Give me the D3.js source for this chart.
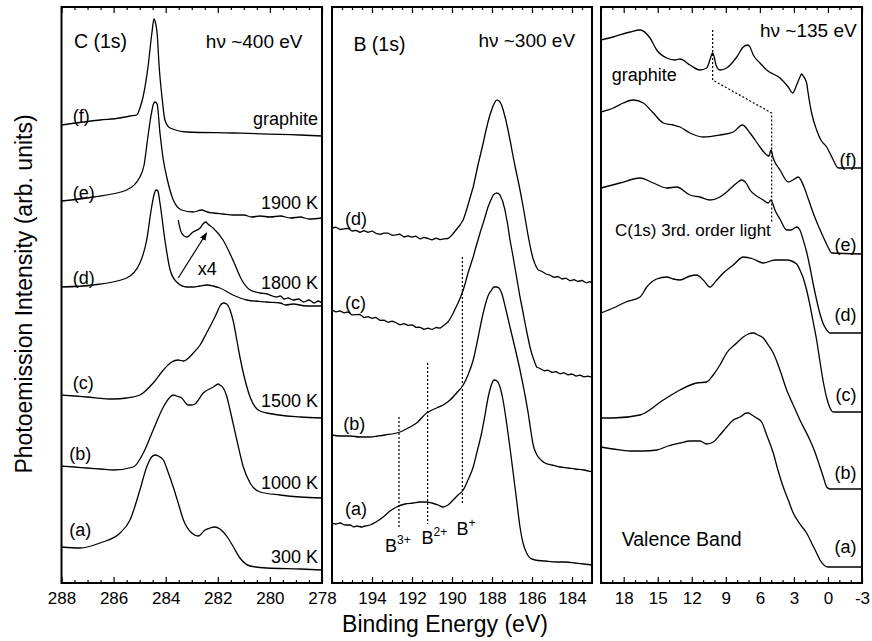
<!DOCTYPE html>
<html>
<head>
<meta charset="utf-8">
<script src="https://cdn.jsdelivr.net/npm/d3@7"></script>
<style>
  body { margin: 0; background: #fff; }
  svg { display: block; }
  text { font-family: "Liberation Sans", Arial, Helvetica, sans-serif; fill: #000; }
</style>
</head>
<body>
<svg id="chart" width="872" height="641"></svg>
<script>
// ---------------- data: [binding energy (eV), intensity (arb. units)] ----------------

// C(1s), hv ~ 400 eV
const c1sA = [[288.0,36],[287.29,35],[286.52,40],[285.75,50],[285.37,63],[284.99,93],[284.73,116],[284.54,126],[284.41,128],[284.28,127],[284.09,123],[283.91,111],[283.71,96],[283.52,80],[283.32,63],[283.0,50],[282.75,47],[282.49,53],[282.30,55],[282.11,56],[281.92,54],[281.79,51],[281.61,45],[281.40,36],[281.15,25],[280.76,17],[280.12,15],[278.84,14],[278.0,13]];
const c1sB = [[288.0,117],[287.5,116],[287.03,115],[286.5,114],[286.01,113],[285.24,116],[284.86,130],[284.48,153],[284.09,176],[283.83,186],[283.71,188],[283.58,187],[283.39,185],[283.13,178],[283.0,178],[282.88,179],[282.56,190],[282.17,196],[281.98,199],[281.92,198],[281.79,195],[281.66,187],[281.53,173],[281.27,143],[281.02,116],[280.76,100],[280.38,91],[279.61,88],[278.84,86],[278.0,85]];
const c1sC = [[288.0,188],[287.5,187],[287.03,186],[286.01,184],[285.50,185],[284.99,188],[284.48,200],[284.09,213],[283.77,221],[283.52,223],[283.32,222],[282.94,230],[282.68,238],[282.43,250],[282.17,263],[282.04,270],[281.92,277],[281.79,280],[281.66,279],[281.53,273],[281.40,261],[281.27,243],[281.15,226],[281.02,210],[280.76,186],[280.45,173],[280.12,170],[278.84,166],[278.0,165]];
const c1sD = [[288.0,296],[286.79,298],[285.50,305],[284.99,320],[284.73,343],[284.54,376],[284.45,388],[284.37,393],[284.30,392],[284.22,380],[284.03,343],[283.83,313],[283.58,301],[283.19,296],[282.95,296],[282.68,297],[282.43,298],[282.18,297],[281.92,295],[281.42,288],[280.89,283],[280.12,281],[279.6,280],[279.4,278],[279.11,279],[278.6,277],[278.0,277]];
const c1sDx4 = [[283.52,363],[283.39,350],[283.19,346],[282.95,351],[282.68,355],[282.57,359],[282.46,361],[282.38,359],[282.18,355],[281.80,343],[281.42,323],[281.08,303],[280.76,293],[280.38,290],[280.1,289],[279.9,287],[279.74,286],[279.6,287],[279.45,284],[279.3,285],[279.11,283],[278.9,284],[278.7,281],[278.5,283],[278.3,280],[278.15,282],[278.0,280]];
const c1sE = [[288.0,382],[286.79,386],[285.50,393],[284.99,406],[284.83,418],[284.70,443],[284.56,468],[284.47,479],[284.41,481],[284.33,479],[284.22,450],[284.09,423],[283.96,406],[283.71,383],[283.39,373],[282.95,371],[282.62,373],[282.4,371],[282.18,370],[281.8,369],[281.42,368],[281.0,368],[280.7,366],[280.38,367],[280.0,366],[279.6,367],[279.2,365],[278.84,366],[278.5,364],[278.0,365]];
const c1sF = [[288.0,458],[286.52,463],[285.75,465],[285.37,467],[285.11,468],[284.99,475],[284.87,486],[284.68,516],[284.53,550],[284.45,564],[284.39,560],[284.33,550],[284.25,516],[284.13,483],[284.03,463],[283.83,455],[283.18,451],[281.42,450],[278.84,448],[278.0,447]];

// B(1s), hv ~ 300 eV
const b1sA = [[196.0,60],[195.8,59],[195.6,60],[195.35,58],[195.1,58],[194.9,56],[194.77,57],[194.5,56],[194.35,57],[194.10,58],[193.80,61],[193.44,66],[193.10,72],[192.77,76],[192.35,79],[191.94,80],[191.60,81],[191.27,81],[191.0,80],[190.70,78],[190.44,76],[190.20,78],[189.94,83],[189.70,88],[189.44,93],[189.20,103],[188.94,116],[188.75,131],[188.52,150],[188.35,168],[188.19,186],[188.05,197],[187.90,203],[187.75,202],[187.60,196],[187.45,183],[187.27,160],[187.10,135],[186.94,110],[186.77,83],[186.60,56],[186.45,40],[186.27,30],[186.10,25],[185.85,23],[185.35,22],[184.77,21],[184.3,21],[183.85,20],[183.4,19],[183.0,18]];
const b1sB = [[196.0,148],[195.6,147],[195.1,147],[194.6,146],[194.10,146],[193.7,147],[193.35,148],[192.60,151],[192.10,156],[191.77,160],[191.27,170],[190.77,175],[190.44,178],[190.10,183],[189.77,190],[189.44,198],[189.20,208],[188.94,223],[188.70,245],[188.44,270],[188.20,287],[188.02,293],[187.90,296],[187.77,296],[187.65,295],[187.52,290],[187.30,273],[187.10,256],[186.85,235],[186.60,213],[186.35,188],[186.20,171],[186.05,151],[185.94,138],[185.75,128],[185.55,123],[185.35,120],[185.0,118],[184.60,116],[184.2,115],[183.85,114],[183.4,113],[183.0,111]];
const b1sC = [[196.0,273],[195.8,271.2],[195.6,272.2],[195.4,270.2],[195.2,271.1],[195.0,268.1],[194.8,268.4],[194.6,268.5],[194.4,265.4],[194.2,266.3],[194.0,264.7],[193.8,265.6],[193.6,262.6],[193.4,262.9],[193.2,260.7],[193.0,261.9],[192.8,260.3],[192.6,258.1],[192.4,259.3],[192.2,257.6],[192.0,258.2],[191.8,255.6],[191.6,255.8],[191.4,253.6],[191.2,254.8],[191.0,253.5],[190.8,255.5],[190.6,254.8],[190.4,257.8],[190.2,261],[190.07,265],[189.94,270],[189.82,275],[189.70,280],[189.57,286],[189.44,293],[189.32,301],[189.20,310],[189.07,318],[188.94,326],[188.82,335],[188.70,343],[188.57,352],[188.44,360],[188.32,368],[188.20,376],[188.07,382.5],[187.94,388],[187.85,389.5],[187.77,390],[187.68,389.5],[187.60,388],[187.47,382],[187.35,373],[187.22,359],[187.10,343],[186.97,329],[186.85,315],[186.72,300],[186.60,286],[186.47,273],[186.35,260],[186.22,247],[186.10,236],[186.02,230],[185.94,225],[185.85,220],[185.77,216],[185.6,214.5],[185.4,212.2],[185.2,212.8],[185.0,210.6],[184.8,211.4],[184.6,209.2],[184.4,210.3],[184.2,208.1],[184.0,209],[183.8,206.9],[183.6,207.8],[183.4,206.1],[183.2,206.8],[183.0,205.5]];
const b1sD = [[196.0,355],[195.8,355.8],[195.6,353.5],[195.4,354.1],[195.2,354.7],[195.0,352.0],[194.8,352.7],[194.6,350.7],[194.4,352.3],[194.2,350.7],[194.0,352.0],[193.8,349.7],[193.6,348.7],[193.4,349.9],[193.2,349.9],[193.0,347.7],[192.8,348.2],[192.6,348.8],[192.4,346.0],[192.2,347.1],[192.0,345.8],[191.8,346.8],[191.6,344.0],[191.4,345.6],[191.2,344.5],[191.0,343.1],[190.8,344.8],[190.6,343.3],[190.4,344.1],[190.2,344.5],[190.1,346],[190.0,348],[189.9,350.5],[189.8,353],[189.7,355.5],[189.6,358],[189.52,360.5],[189.44,363],[189.32,370],[189.20,378],[189.07,387],[188.94,396],[188.82,407],[188.70,418],[188.57,429],[188.44,440],[188.32,451],[188.20,461],[188.11,467.5],[188.02,473],[187.94,477.5],[187.85,481],[187.80,482.5],[187.74,483],[187.67,482.5],[187.60,481],[187.52,478],[187.44,473],[187.32,464],[187.20,453],[187.07,440],[186.94,426],[186.82,414],[186.70,403],[186.57,390],[186.44,376],[186.32,362],[186.20,348],[186.11,338.5],[186.02,330],[185.94,324],[185.85,319],[185.77,315.5],[185.69,313],[185.5,311.5],[185.3,309],[185.1,307.8],[184.9,305.6],[184.7,306.5],[184.5,304],[184.3,304.8],[184.1,302.2],[183.9,303.4],[183.7,301.5],[183.5,302.6],[183.3,300.2],[183.1,301.3],[183.0,300]];

// Valence band, hv ~ 135 eV
const vbA = [[20.0,136],[18.92,134],[17.44,132],[16.27,132],[15.09,133],[14.10,137],[13.04,140],[12.16,142],[11.28,142],[10.69,139],[10.11,141],[9.52,148],[8.93,156],[8.34,163],[7.75,166],[7.16,170],[7.02,170],[6.70,168],[6.28,165],[5.84,161],[5.40,148],[4.82,130],[4.41,113],[3.94,96],[3.50,83],[3.06,70],[2.47,59],[1.88,50],[1.44,40],[1.00,30],[0.70,23],[0.26,17],[0.0,16],[-3.0,16]];
const vbB = [[20.0,165],[18.92,165],[16.56,168],[14.51,183],[13.04,193],[11.57,200],[10.69,201],[10.11,208],[9.52,218],[8.93,230],[8.04,240],[7.46,246],[7.02,249],[6.58,250],[6.17,248],[5.70,245],[5.26,238],[4.82,230],[4.23,213],[3.64,193],[3.06,178],[2.47,163],[1.59,143],[1.15,131],[0.70,116],[0.41,106],[0.11,96],[-0.18,94],[-0.47,94],[-3.0,94]];
const vbC = [[20.0,270],[18.92,275],[17.80,281],[16.56,286],[15.97,296],[15.09,304],[14.21,306],[13.63,304],[13.04,303],[12.16,307],[11.57,308],[10.99,303],[10.40,296],[9.87,302],[9.22,310],[8.34,318],[7.46,326],[6.58,324],[5.70,320],[4.67,323],[3.64,323],[2.76,319],[2.47,313],[2.18,305],[1.88,293],[1.59,278],[1.30,261],[1.00,243],[0.70,221],[0.41,201],[0.11,185],[-0.18,175],[-0.47,171],[-3.0,171]];
const vbD = [[20.0,395],[18.33,400],[16.56,405],[15.39,400],[14.21,395],[13.33,396],[12.16,388],[11.28,386],[10.40,383],[9.52,386],[8.93,391],[8.04,400],[7.60,403],[7.16,399],[6.87,393],[6.28,387],[5.70,383],[5.26,380],[5.02,383],[4.85,379],[4.67,373],[4.23,364],[3.64,353],[3.26,353],[2.76,356],[2.47,353],[2.18,343],[1.88,331],[1.59,316],[1.30,299],[1.00,283],[0.70,269],[0.41,259],[0.11,253],[-0.18,250],[-3.0,250]];
const vbE = [[20.0,471],[18.92,475],[18.04,480],[17.15,483],[16.27,480],[15.39,470],[14.51,460],[13.63,458],[13.04,456],[12.16,450],[10.99,446],[9.52,448],[8.34,451],[7.55,458],[6.87,450],[5.99,436],[5.40,428],[5.20,427],[5.02,433],[4.85,426],[4.76,423],[4.23,413],[3.50,401],[3.09,403],[2.62,406],[2.18,398],[1.76,385],[1.30,370],[0.88,358],[0.41,346],[0.0,336],[-0.33,330],[-3.0,329]];
const vbF = [[20.0,543],[18.92,546],[17.44,551],[16.56,553],[15.68,545],[15.09,533],[14.21,525],[13.48,523],[13.04,524],[12.16,518],[11.28,513],[10.69,515],[10.55,518],[10.35,525],[10.16,530],[10.0,525],[9.87,518],[9.52,513],[8.93,515],[8.04,526],[7.46,536],[7.07,538],[6.87,536],[6.58,528],[5.99,520],[5.40,513],[4.23,505],[3.50,496],[3.11,490],[2.76,498],[2.47,506],[2.32,509],[2.18,507],[1.88,500],[1.76,491],[1.59,479],[1.44,470],[1.00,453],[0.62,443],[0.11,436],[-0.47,423],[-0.91,415],[-3.0,415]];

// B(1s) chemical-shift markers: energy, top and bottom intensity of the dotted guide
const boronStates = ["B3+", "B2+", "B+"];
const boronStateEnergy = [192.65, 191.22, 189.48];
const boronStateSpan = [[166, 56], [220, 59], [326, 78]];

// C(1s) third-order light trace in the valence band spectra
const thirdOrderPath = [[10.16,553],[10.16,503],[4.96,470],[4.96,361]];

// labels
const curveLetters = ["(a)", "(b)", "(c)", "(d)", "(e)", "(f)"];
const c1sConditions = ["300 K", "1000 K", "1500 K", "1800 K", "1900 K", "graphite"];
const panelTitles = ["C (1s)", "B (1s)", "Valence Band"];
const photonEnergies = ["h\u03BD ~400 eV", "h\u03BD ~300 eV", "h\u03BD ~135 eV"];

// tick values
const c1sTicks = [288, 286, 284, 282, 280, 278];
const b1sTicks = [194, 192, 190, 188, 186, 184];
const vbTicks = [18, 15, 12, 9, 6, 3, 0, -3];

// ---------------- layout ----------------
const svg = d3.select("#chart");
const TOP = 7, BOTTOM = 583;
const y = d3.scaleLinear().domain([0, 576]).range([BOTTOM, TOP]);

// densely sampled (noisy) spectra are joined point to point
const roughCurves = new Set([b1sC, b1sD]);

const panels = [
  { x: d3.scaleLinear().domain([288, 278]).range([61.5, 322]), ticks: c1sTicks, minor: d3.range(278, 288.001, 0.5),
    curves: [c1sA, c1sB, c1sC, c1sD, c1sE, c1sF, c1sDx4] },
  { x: d3.scaleLinear().domain([196, 183]).range([332, 592]), ticks: b1sTicks, minor: d3.range(183, 196.001, 0.5),
    curves: [b1sA, b1sB, b1sC, b1sD] },
  { x: d3.scaleLinear().domain([20, -3]).range([601, 862]), ticks: vbTicks, minor: d3.range(-3, 20.001, 1),
    curves: [vbA, vbB, vbC, vbD, vbE, vbF] }
];

const defs = svg.append("defs");
defs.append("marker").attr("id", "arrowhead")
  .attr("viewBox", "0 0 10 10").attr("refX", 9).attr("refY", 5)
  .attr("markerUnits", "userSpaceOnUse").attr("markerWidth", 8).attr("markerHeight", 8)
  .attr("orient", "auto")
  .append("path").attr("d", "M0,1 L10,5 L0,9 Z").attr("fill", "#000");

panels.forEach((p, i) => {
  const [x0, x1] = p.x.range();
  const g = svg.append("g");
  const clipId = "clip" + i;
  defs.append("clipPath").attr("id", clipId)
    .append("rect").attr("x", x0).attr("y", TOP).attr("width", x1 - x0).attr("height", BOTTOM - TOP);

  const smooth = d3.line().x(d => p.x(d[0])).y(d => y(d[1])).curve(d3.curveMonotoneX);
  const rough = d3.line().x(d => p.x(d[0])).y(d => y(d[1])).curve(d3.curveLinear);
  g.append("g").attr("clip-path", `url(#${clipId})`)
    .selectAll("path").data(p.curves).join("path")
    .attr("d", d => (roughCurves.has(d) ? rough : smooth)(d))
    .attr("fill", "none").attr("stroke", "#000")
    .attr("stroke-width", 1.3).attr("stroke-linejoin", "round");

  const minor = p.minor.filter(v => !p.ticks.includes(v));
  const styleAxis = a => { a.select(".domain").remove(); a.selectAll("line").attr("stroke-width", 1.2); };

  g.append("g").attr("transform", `translate(0,${BOTTOM})`)
    .call(d3.axisBottom(p.x).tickValues(p.ticks).tickSize(-6).tickPadding(9).tickFormat(d => String(d)))
    .call(styleAxis)
    .call(a => a.selectAll("text").attr("font-size", 17).attr("font-family", "Liberation Sans, Arial, sans-serif"));
  g.append("g").attr("transform", `translate(0,${BOTTOM})`)
    .call(d3.axisBottom(p.x).tickValues(minor).tickSize(-3).tickFormat(""))
    .call(styleAxis);
  g.append("g").attr("transform", `translate(0,${TOP})`)
    .call(d3.axisTop(p.x).tickValues(p.ticks).tickSize(-6).tickFormat(""))
    .call(styleAxis);
  g.append("g").attr("transform", `translate(0,${TOP})`)
    .call(d3.axisTop(p.x).tickValues(minor).tickSize(-3).tickFormat(""))
    .call(styleAxis);

  g.append("rect").attr("x", x0).attr("y", TOP).attr("width", x1 - x0).attr("height", BOTTOM - TOP)
    .attr("fill", "none").attr("stroke", "#000").attr("stroke-width", 2);
  p.g = g;
});

function label(g, x, e, v, txt, size, anchor) {
  return g.append("text").attr("x", x(e)).attr("y", y(v))
    .attr("font-size", size).attr("text-anchor", anchor || "start").text(txt);
}

// ---- panel 1: C(1s)
{
  const p = panels[0], g = p.g, x = p.x;
  label(g, x, 287.52, 535, panelTitles[0], 19.5);
  label(g, x, 282.46, 535, photonEnergies[0], 19);
  const letterE = [287.70, 287.70, 287.57, 287.57, 287.57, 287.57];
  const letterI = [47, 123, 194.5, 299, 384, 461];
  curveLetters.forEach((t, k) => label(g, x, letterE[k], letterI[k], t, 18));
  const condI = [20, 94, 176, 294, 374, 458];
  c1sConditions.forEach((t, k) => label(g, x, 278.15, condI[k], t, 18, "end"));
  label(g, x, 282.40, 308, "x4", 18, "middle");
  g.append("line")
    .attr("x1", x(283.52)).attr("y1", y(305)).attr("x2", x(282.43)).attr("y2", y(350))
    .attr("stroke", "#000").attr("stroke-width", 1.2).attr("marker-end", "url(#arrowhead)");
}

// ---- panel 2: B(1s)
{
  const p = panels[1], g = p.g, x = p.x;
  label(g, x, 194.93, 532, panelTitles[1], 19.5);
  label(g, x, 188.68, 536.5, photonEnergies[1], 19);
  const letterE = [195.35, 195.44, 195.35, 195.35];
  const letterI = [67.8, 153, 273.6, 358];
  curveLetters.slice(0, 4).forEach((t, k) => label(g, x, letterE[k], letterI[k], t, 18));

  boronStateEnergy.forEach((e, k) => {
    g.append("line").attr("x1", x(e)).attr("x2", x(e))
      .attr("y1", y(boronStateSpan[k][0])).attr("y2", y(boronStateSpan[k][1]))
      .attr("stroke", "#000").attr("stroke-width", 1.2).attr("stroke-dasharray", "2,2");
  });
  const stateE = [193.35, 191.52, 189.77];
  const stateI = [31.3, 38.7, 48];
  boronStates.forEach((s, k) => {
    const t = label(g, x, stateE[k], stateI[k], "B", 18);
    t.append("tspan").attr("dy", -8).attr("font-size", 12).text(s.slice(1));
  });
}

// ---- panel 3: valence band
{
  const p = panels[2], g = p.g, x = p.x;
  label(g, x, -2.53, 546, photonEnergies[2], 19, "end");
  label(g, x, 19.06, 502, "graphite", 18);
  label(g, x, 18.77, 347, "C(1s) 3rd. order light", 17);
  label(g, x, 18.18, 37, panelTitles[2], 19.5);
  const letterI = [30.5, 104.5, 182, 262, 332, 417];
  curveLetters.forEach((t, k) => label(g, x, -2.51, letterI[k], t, 18, "end"));
  g.append("path").datum(thirdOrderPath)
    .attr("d", d3.line().x(d => x(d[0])).y(d => y(d[1])))
    .attr("fill", "none").attr("stroke", "#000").attr("stroke-width", 1.2).attr("stroke-dasharray", "2,2");
}

// ---- shared axis titles
svg.append("text").attr("x", 445).attr("y", 632).attr("text-anchor", "middle")
  .attr("font-size", 23).text("Binding Energy (eV)");
svg.append("text").attr("transform", "translate(31.5,294) rotate(-90)").attr("text-anchor", "middle")
  .attr("font-size", 23).text("Photoemission Intensity (arb. units)");
</script>
</body>
</html>
